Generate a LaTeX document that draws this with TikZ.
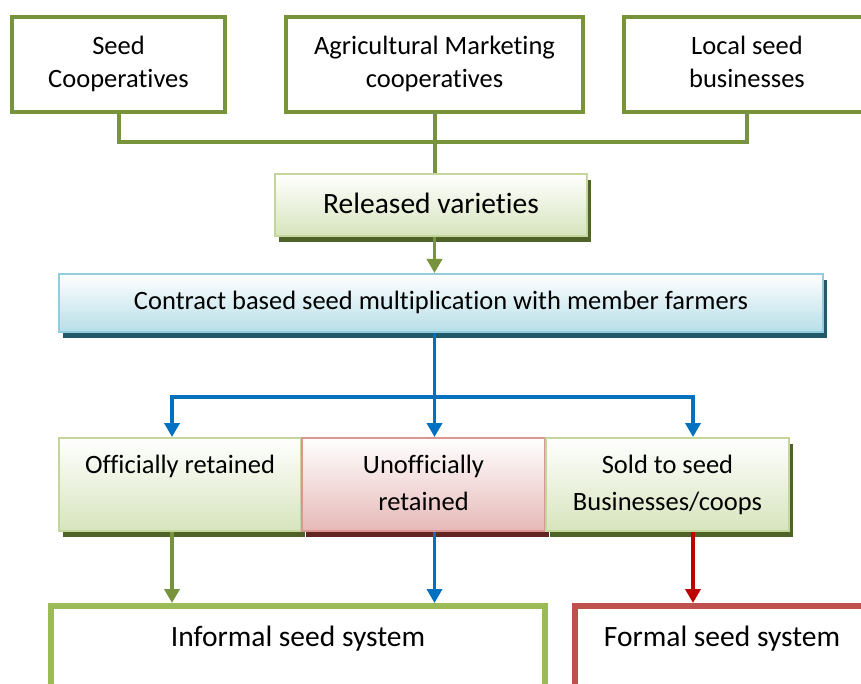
\documentclass[tikz,border=0pt]{standalone}
\usepackage{fontspec}
\setmainfont{Carlito}[Ligatures={NoCommon,NoContextual}, Contextuals=NoAlternate, RawFeature={-liga;-calt;-clig}]
\usetikzlibrary{arrows.meta,shadows}
\definecolor{cOlive}{HTML}{77933C}
\definecolor{cGreenBorder}{HTML}{C3D69B}
\definecolor{cGreenFill}{HTML}{D7E4BD}
\definecolor{cGreenShadow}{HTML}{4F6228}
\definecolor{cBlueBorder}{HTML}{93CDDD}
\definecolor{cBlueFill}{HTML}{B7DEE8}
\definecolor{cBlueShadow}{HTML}{215968}
\definecolor{cPinkBorder}{HTML}{D99694}
\definecolor{cPinkFill}{HTML}{E6B9B8}
\definecolor{cRedShadow}{HTML}{632523}
\definecolor{cArrowBlue}{HTML}{0070C0}
\definecolor{cArrowRed}{HTML}{C00000}
\definecolor{cInformal}{HTML}{9BBB59}
\definecolor{cFormal}{HTML}{C0504D}
\tikzset{
  topbox/.style={draw=cOlive, line width=4pt, fill=white, align=center, inner sep=0pt, minimum height=95pt},
  gradbox/.style={line width=2pt, align=center, inner sep=0pt, top color=white,
    drop shadow={shadow xshift=4pt, shadow yshift=-6pt, fill=#1, opacity=1}},
  greenbox/.style={gradbox=cGreenShadow, draw=cGreenBorder, bottom color=cGreenFill},
  bluebox/.style={gradbox=cBlueShadow, draw=cBlueBorder, bottom color=cBlueFill},
  pinkbox/.style={gradbox=cRedShadow, draw=cPinkBorder, bottom color=cPinkFill},
  rowtext/.style={font=\fontsize{26.5}{36.5}\selectfont},
  bigtext/.style={font=\fontsize{29.5}{33}\selectfont},
  sysbox/.style={bigtext, line width=6pt, fill=white, inner xsep=0pt, inner ysep=19pt, text height=21pt, text depth=120pt},
  topline/.style={draw=cOlive, line width=4pt},
  oarrow/.style={draw=cOlive, line width=3.5pt, -{Triangle[width=15pt,length=14pt]}},
  barrow/.style={draw=cArrowBlue, line width=3.5pt, -{Triangle[width=15pt,length=14pt]}},
  rarrow/.style={draw=cArrowRed, line width=3.5pt, -{Triangle[width=15pt,length=14pt]}}
}
\begin{document}
\begin{tikzpicture}[x=1pt, y=-1pt, font=\fontsize{26.5}{33}\selectfont]
\useasboundingbox (0,0) rectangle (861,684);
\clip (0,0) rectangle (861,684);
\fill[white] (0,0) rectangle (861,684);
% top row
\node[topbox, minimum width=213pt] (sc) at (118.5,64.5) {\strut Seed\\\strut Cooperatives};
\node[topbox, minimum width=297pt] (amc) at (434.5,64.5) {\strut Agricultural Marketing\\\strut cooperatives};
\node[topbox, minimum width=246pt] (lsb) at (747,64.5) {\strut Local seed\\\strut businesses};
\coordinate (j) at (434.5,142);
% released varieties
\node[greenbox, bigtext, minimum width=312pt, minimum height=62pt] (rv) at (431,205) {\strut\raisebox{-2pt}{Released varieties}};
% contract
\node[bluebox, minimum width=764pt, minimum height=58pt] (cb) at (441,303) {\strut Contract based seed multiplication with member farmers};
% bottom row
\node[greenbox, rowtext, minimum width=242pt, minimum height=93pt] (or) at (180,484.5) {\strut Officially retained\\\strut};
\node[pinkbox, rowtext, minimum width=243pt, minimum height=93pt] (ur) at (423.5,484.5) {\strut Unofficially\\\strut retained};
\node[greenbox, rowtext, minimum width=243pt, minimum height=93pt] (sb) at (667.5,484.5) {\strut Sold to seed\\\strut Businesses/coops};
% systems
\node[sysbox, draw=cInformal, minimum width=494pt] (inf) at (298,0) [anchor=north, yshift=-603pt] {Informal seed system};
\node[sysbox, draw=cFormal, minimum width=294pt] (fsys) at (722,0) [anchor=north, yshift=-603pt] {Formal seed system};
% connectors
\draw[topline] (sc.south) |- (j);
\draw[topline] (lsb.south) |- (j);
\draw[topline] (amc.south) -- (amc.south |- rv.north);
\draw[oarrow] (amc.south |- rv.south) -- (amc.south |- cb.north);
\coordinate (bm) at (434.5,397);
\coordinate (bl) at (172,397);
\coordinate (br) at (693,397);
\draw[barrow] (bm |- cb.south) -- (bm |- ur.north);
\draw[barrow] (bm) -| (bl |- or.north);
\draw[barrow] (bm) -| (br |- sb.north);
\draw[oarrow] (bl |- or.south) -- (bl |- inf.north);
\draw[barrow] (bm |- ur.south) -- (bm |- inf.north);
\draw[rarrow] (br |- sb.south) -- (br |- fsys.north);
\end{tikzpicture}
\end{document}
